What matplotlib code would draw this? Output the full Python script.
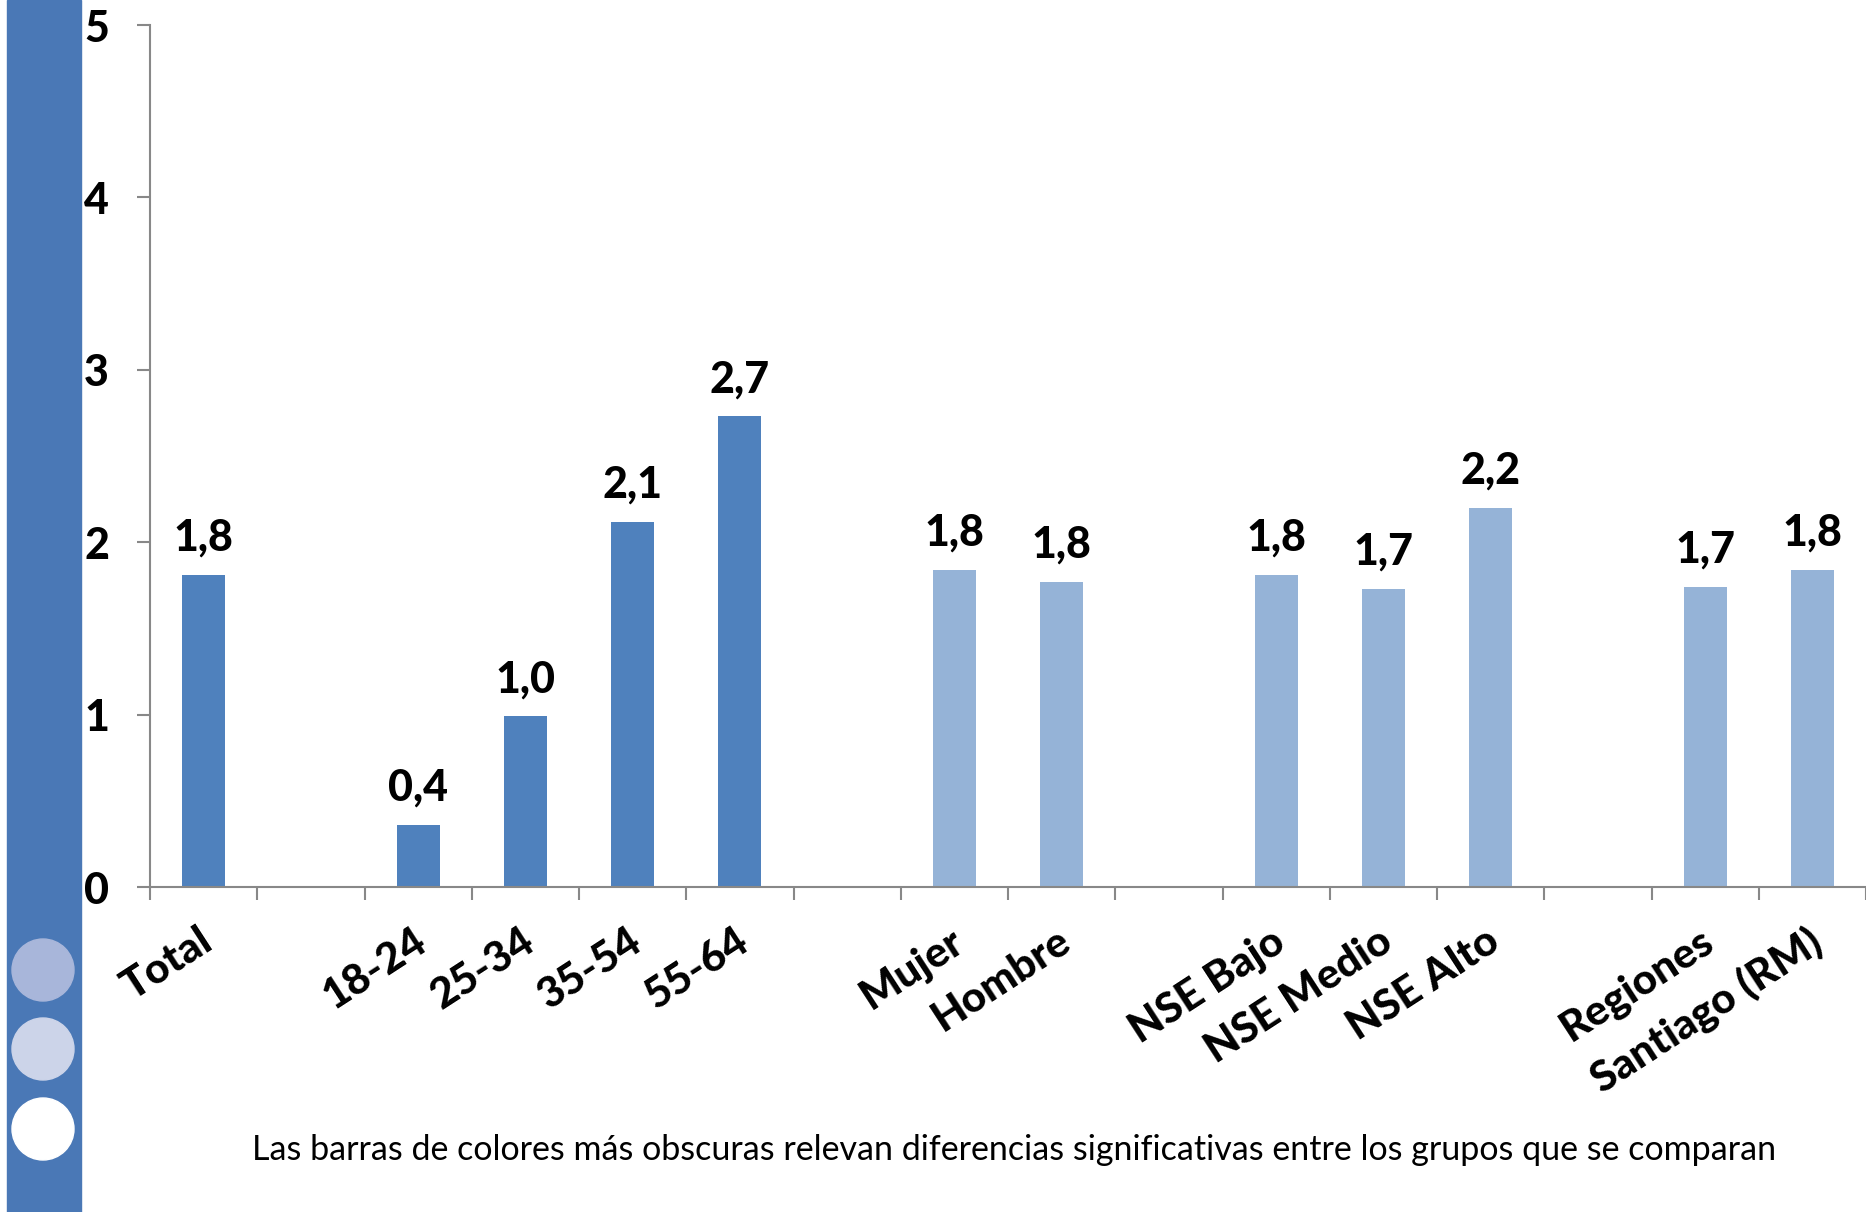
import matplotlib
matplotlib.use("Agg")
import matplotlib.pyplot as plt
from matplotlib.patches import Rectangle, Ellipse

plt.rcParams['font.family'] = ['Lato', 'DejaVu Sans']

# categories, blanks ("") separate the groups
categories = ["Total", "", "18-24", "25-34", "35-54", "55-64", "",
              "Mujer", "Hombre", "", "NSE Bajo", "NSE Medio", "NSE Alto", "",
              "Regiones", "Santiago (RM)"]
values = [1.81, None, 0.36, 0.99, 2.12, 2.73, None,
          1.84, 1.77, None, 1.81, 1.73, 2.20, None,
          1.74, 1.84]
significant = [True, False, True, True, True, True, False,
               False, False, False, False, False, False, False,
               False, False]
y_ticks = [0, 1, 2, 3, 4, 5]

dark = '#4F81BD'
light = '#95B3D7'
W, H = 1866, 1212

fig = plt.figure(figsize=(W / 100, H / 100), dpi=100)

# left decorative strip with three circles
fig.add_artist(Rectangle((7 / W, 0), 74 / W, 1, transform=fig.transFigure,
                         color='#4A78B6', zorder=0))
for cy, col in [(970, '#A8B6DA'), (1049, '#CCD4E9'), (1129, 'white')]:
    fig.add_artist(Ellipse((43 / W, 1 - cy / H), 62 / W, 62 / H,
                           transform=fig.transFigure, color=col, zorder=1))

ax = fig.add_axes([150 / W, 1 - 887 / H, 1 - 150 / W, (887 - 25) / H])

n = len(categories)
xs = [i for i in range(n) if values[i] is not None]
vals = [values[i] for i in xs]
cols = [dark if significant[i] else light for i in xs]
ax.bar(xs, vals, width=0.4, color=cols, zorder=2)

for x, v in zip(xs, vals):
    ax.text(x, v + 0.1, f"{v:.1f}".replace('.', ','), ha='center', va='bottom',
            fontsize=31, fontweight='black')

ax.set_xlim(-0.5, n - 0.5)
ax.set_ylim(0, 5)
ax.set_yticks(y_ticks)
ax.set_yticklabels([str(t) for t in y_ticks], fontsize=31, fontweight='black')
ax.tick_params(axis='y', length=9.5, width=1.5, color='#888888', pad=20)

# category boundary ticks, labels placed at bar centres
ax.set_xticks([i - 0.5 for i in range(n + 1)])
ax.set_xticklabels([])
ax.tick_params(axis='x', length=9.5, width=1.5, color='#888888')
for i, lab in enumerate(categories):
    if lab:
        ax.text(i - 0.05, -0.2, lab, rotation=33, rotation_mode='anchor',
                ha='right', va='top', fontsize=30.5, fontweight='black')

for s in ['top', 'right']:
    ax.spines[s].set_visible(False)
for s in ['left', 'bottom']:
    ax.spines[s].set_color('#888888')
    ax.spines[s].set_linewidth(1.5)

fig.text(1014 / W, 1 - 1150 / H,
         "Las barras de colores más obscuras relevan diferencias significativas entre los grupos que se comparan",
         ha='center', va='center', fontsize=24.5)

fig.savefig('out.png', dpi=100)
